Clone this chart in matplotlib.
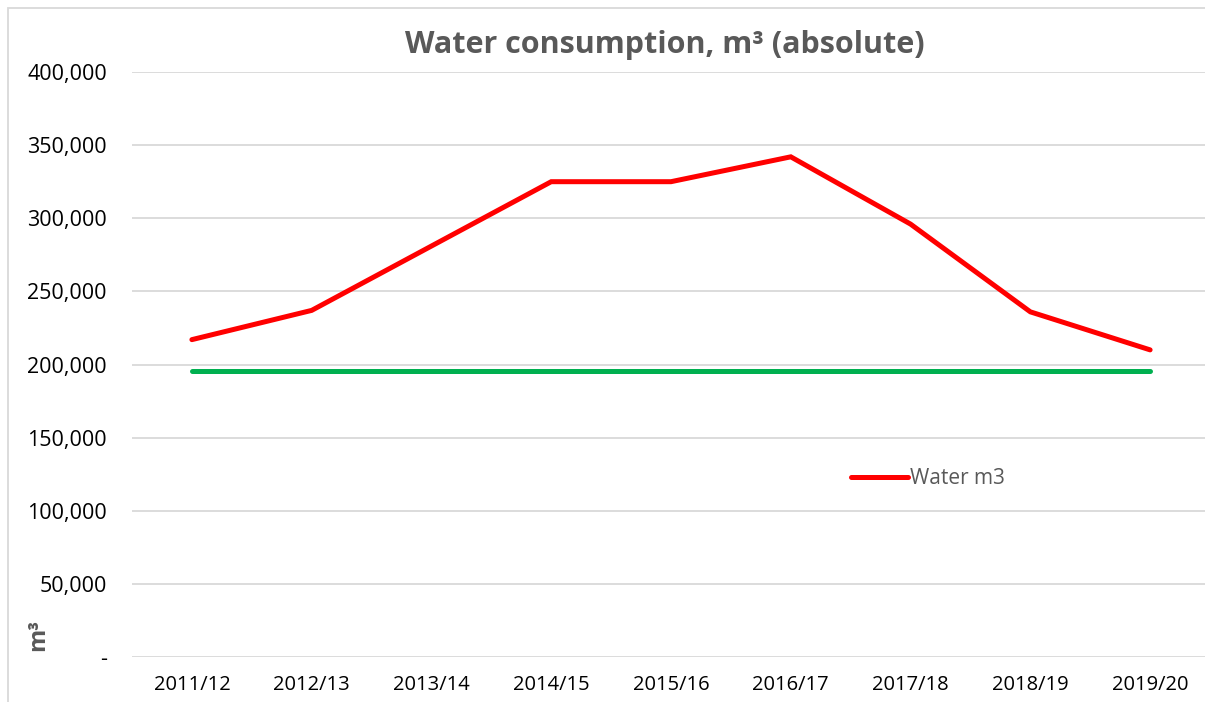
import numpy as np
import matplotlib
matplotlib.use("Agg")
from matplotlib import pyplot as plt
from matplotlib.patches import Rectangle
from matplotlib.ticker import FuncFormatter

years = ["2011/12", "2012/13", "2013/14", "2014/15", "2015/16",
         "2016/17", "2017/18", "2018/19", "2019/20"]
water_m3 = [217000, 237000, 281000, 325000, 325000, 342000, 296000, 236000, 210000]
target_m3 = [195500] * len(years)  # flat green reference line

plt.rcParams['font.family'] = ['Open Sans', 'DejaVu Sans']

fig = plt.figure(figsize=(12.05, 7.02), dpi=100)
ax = fig.add_axes([132 / 1205, 45 / 702, (1210 - 132) / 1205, (657 - 72) / 702])

x = np.arange(len(years))
ax.plot(x, water_m3, color="#ff0000", lw=3.6, solid_capstyle="round",
        solid_joinstyle="miter", label="Water m3", zorder=3)
ax.plot(x, target_m3, color="#00b050", lw=3.6, solid_capstyle="round", zorder=3)

ax.set_xlim(-0.5, len(years) - 0.5)
ax.set_ylim(0, 400000)
ax.set_yticks(np.arange(0, 400001, 50000))
ax.yaxis.set_major_formatter(FuncFormatter(lambda v, p: "-" if v == 0 else f"{int(v):,}"))
ax.set_xticks(x)
ax.set_xticklabels(years)
ax.tick_params(axis="both", length=0, labelsize=14.5, colors="#000000")
ax.tick_params(axis="x", pad=13)
ax.tick_params(axis="y", pad=18)
for lab in ax.get_yticklabels():
    lab.set_fontsize(15.5)
ax.grid(axis="y", color="#d9d9d9", lw=1.3)
ax.set_axisbelow(True)
for s in ax.spines.values():
    s.set_visible(False)

ax.legend(loc="upper left", bbox_to_anchor=(0.65, 0.355), frameon=False,
          fontsize=15, handlelength=2.7, handletextpad=0.1, labelcolor="#595959")

fig.text(665 / 1205, 1 - 45 / 702, "Water consumption, m³ (absolute)", ha="center",
         va="center", fontsize=22, fontweight="bold", color="#595959")
fig.text(38 / 1205, 1 - 635 / 702, "m³", rotation=90, ha="center", va="center",
         fontsize=17, fontweight="bold", color="#595959")

# light chart-area border
fig.patches.append(Rectangle((8 / 1205, -0.1), 1.2, 1 - 8 / 702 + 0.1,
                             transform=fig.transFigure, fill=False,
                             edgecolor="#d9d9d9", lw=1.3))

fig.savefig("out.png", dpi=100, facecolor="white")
